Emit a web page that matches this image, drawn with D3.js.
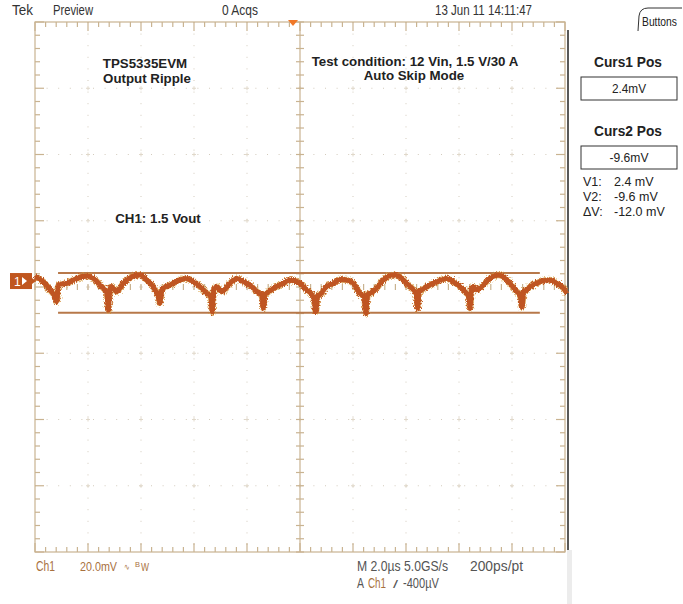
<!DOCTYPE html>
<html><head><meta charset="utf-8">
<script src="https://cdn.jsdelivr.net/npm/d3@7"></script>
<style>
html,body{margin:0;padding:0;background:#fff;}
svg{display:block;}
.nar{font-family:"Liberation Sans",Arial,sans-serif;}
.ann{font-family:"Liberation Sans",Arial,sans-serif;font-weight:bold;}
</style></head>
<body>
<svg id="c" width="683" height="604"></svg>
<script>
// ---- data (time in µs, voltage in mV) ----
const traceTime = [0,0.31,0.57,0.75,0.82,0.88,1.2,1.57,1.95,2.2,2.45,2.71,2.77,2.83,2.89,3.08,3.33,3.71,3.96,4.22,4.46,4.65,4.72,4.78,4.84,5.09,5.47,5.72,5.97,6.23,6.48,6.64,6.69,6.75,6.86,7.05,7.36,7.61,7.86,8.11,8.37,8.56,8.62,8.68,8.74,8.99,9.37,9.62,10.0,10.25,10.5,10.6,10.66,10.75,11.0,11.26,11.51,11.76,12.01,12.26,12.43,12.49,12.55,12.64,12.83,13.14,13.52,13.77,14.03,14.28,14.38,14.44,14.5,14.59,14.78,15.16,15.54,15.78,16.04,16.29,16.36,16.42,16.48,16.54,16.67,17.17,17.48,17.67,17.92,18.18,18.31,18.37,18.45,18.55,18.68,19.06,19.43,19.69,19.94,20.06];
const traceMv = [1.3,-0.2,-2.7,-4.7,-6.2,-1.2,-0.7,0.8,1.5,0.8,-1.2,-3.7,-8.8,-2.5,-1.7,-3.2,-0.7,1.5,1.8,0.3,-1.7,-4.7,-6.7,-2.8,-2.2,-1.2,0.3,0.8,-0.2,-1.7,-3.7,-4.8,-9.3,-2.5,-1.7,-3.2,-0.7,0.8,-0.2,-1.2,-3.2,-4.5,-8.2,-4.0,-3.7,-2.2,-0.7,0.3,-0.7,-2.7,-4.7,-9.3,-4.5,-4.2,-1.7,-0.7,0.5,0.3,-0.7,-3.7,-5.0,-9.8,-4.0,-3.7,-2.7,0.3,1.8,1.3,-0.7,-2.7,-3.8,-8.2,-3.0,-2.7,-1.7,-0.2,0.8,-0.2,-1.7,-3.7,-4.5,-8.2,-2.0,-1.7,-2.7,0.8,1.8,1.3,-0.7,-3.2,-4.3,-7.8,-3.0,-2.7,-1.7,-0.2,0.3,-0.7,-2.2,-3.7];
const cursorMv = [2.4, -9.6];
const cursorSpan = [0.87, 19.05];          // µs extent of cursor bars
const xDivs = 10, yDivs = 8, minorPerDiv = 5;
const timeDomain = [0, 20];                  // 2.0 µs/div
const voltDomain = [-81.8, 78.2];            // 20.0 mV/div with channel offset
const headerLabels = ["Tek", "Preview", "0 Acqs", "13 Jun 11 14:11:47"];
const readouts = [["V1:", "2.4 mV"], ["V2:", "-9.6 mV"], ["\u0394V:", "-12.0 mV"]];

// ---- layout ----
const L = 35, R = 565, T = 22, B = 552;
const svg = d3.select("#c");
const defs = svg.append("defs");
const flt = defs.append("filter").attr("id", "fuzz").attr("filterUnits", "userSpaceOnUse")
  .attr("x", 0).attr("y", 240).attr("width", 600).attr("height", 100);
flt.append("feTurbulence").attr("type", "fractalNoise").attr("baseFrequency", "0.9 0.6")
  .attr("numOctaves", 2).attr("seed", 7).attr("result", "n");
flt.append("feDisplacementMap").attr("in", "SourceGraphic").attr("in2", "n").attr("scale", 6)
  .attr("xChannelSelector", "R").attr("yChannelSelector", "G");

const x = d3.scaleLinear().domain(timeDomain).range([L, R]);
const y = d3.scaleLinear().domain(voltDomain).range([B, T]);
const xd = d3.scaleLinear().domain([0, xDivs]).range([L, R]);
const yd = d3.scaleLinear().domain([0, yDivs]).range([T, B]);
const frameCol = "#c9b391", gridCol = "#d3cbbd";

// dotted interior grid
const g = svg.append("g");
d3.range(1, xDivs).forEach(i => {
  if (i === xDivs/2) return;
  g.append("line").attr("x1", xd(i)).attr("x2", xd(i)).attr("y1", T).attr("y2", B)
   .attr("stroke", gridCol).attr("stroke-width", 1).attr("stroke-dasharray", "1,10.6");
});
d3.range(1, yDivs).forEach(i => {
  if (i === yDivs/2) return;
  g.append("line").attr("x1", L).attr("x2", R).attr("y1", yd(i)).attr("y2", yd(i))
   .attr("stroke", gridCol).attr("stroke-width", 1).attr("stroke-dasharray", "1,10.6");
});
d3.range(1, xDivs).forEach(i => d3.range(1, yDivs).forEach(j => {
  g.append("line").attr("x1", xd(i)-2).attr("x2", xd(i)+2).attr("y1", yd(j)).attr("y2", yd(j)).attr("stroke", "#e0d8ca");
  g.append("line").attr("x1", xd(i)).attr("x2", xd(i)).attr("y1", yd(j)-2).attr("y2", yd(j)+2).attr("stroke", "#e0d8ca");
}));

// frame and centre axes with ticks
const f = svg.append("g").attr("stroke", frameCol).attr("stroke-width", 1.2);
f.append("rect").attr("x", L).attr("y", T).attr("width", R-L).attr("height", B-T).attr("fill", "none");
f.append("line").attr("x1", xd(5)).attr("x2", xd(5)).attr("y1", T).attr("y2", B);
d3.range(0, xDivs*minorPerDiv+1).forEach(k => {
  const xx = xd(k/minorPerDiv), major = k % minorPerDiv === 0;
  const len = major ? 9 : 5;
  f.append("line").attr("x1", xx).attr("x2", xx).attr("y1", T).attr("y2", T+len);
  f.append("line").attr("x1", xx).attr("x2", xx).attr("y1", B).attr("y2", B-len);
  f.append("line").attr("x1", xx).attr("x2", xx).attr("y1", yd(4)-3).attr("y2", yd(4)+3);
});
d3.range(0, yDivs*minorPerDiv+1).forEach(k => {
  const yy = yd(k/minorPerDiv), major = k % minorPerDiv === 0;
  const len = major ? 9 : 5;
  f.append("line").attr("x1", L).attr("x2", L+len).attr("y1", yy).attr("y2", yy);
  f.append("line").attr("x1", R).attr("x2", R-len).attr("y1", yy).attr("y2", yy);
  f.append("line").attr("x1", xd(5)-4).attr("x2", xd(5)+4).attr("y1", yy).attr("y2", yy);
});
// dark right edge
svg.append("line").attr("x1", 568).attr("x2", 568).attr("y1", 30).attr("y2", 550).attr("stroke", "#222").attr("stroke-width", 1.5);
svg.append("rect").attr("x", 567).attr("y", 550).attr("width", 5).attr("height", 54).attr("fill", "#ececec");

// cursors
cursorMv.forEach(v => {
  svg.append("line").attr("x1", x(cursorSpan[0])).attr("x2", x(cursorSpan[1]))
    .attr("y1", y(v)).attr("y2", y(v)).attr("stroke", "#b7784a").attr("stroke-width", 2);
});

// trace
const pts = traceTime.map((t, i) => [t, traceMv[i]]);
const line = d3.line().x(d => x(d[0])).y(d => y(d[1])).curve(d3.curveMonotoneX);
svg.append("path").datum(pts).attr("d", line).attr("fill", "none")
  .attr("stroke", "#d9a040").attr("stroke-width", 6.5).attr("stroke-opacity", 0.7).attr("stroke-linejoin", "round")
  .attr("filter", "url(#fuzz)");
svg.append("path").datum(pts).attr("d", line).attr("fill", "none")
  .attr("stroke", "#bf5524").attr("stroke-width", 4.5).attr("stroke-linejoin", "round");
svg.append("path").datum(pts).attr("d", line).attr("fill", "none")
  .attr("stroke", "#bf5524").attr("stroke-width", 5).attr("stroke-linejoin", "round")
  .attr("filter", "url(#fuzz)");

// channel marker
svg.append("rect").attr("x", 10).attr("y", y(0)-8).attr("width", 22).attr("height", 16).attr("fill", "#c0561f");
svg.append("text").attr("class", "nar").attr("x", 14).attr("y", y(0)+5).attr("fill", "#fff").attr("font-size", 12).text("1");
svg.append("path").attr("d", `M22,${y(0)-4} L27,${y(0)} L22,${y(0)+4} Z`).attr("fill", "#fff");
svg.append("path").attr("d", `M32,${y(0)-3} L36,${y(0)} L32,${y(0)+3} Z`).attr("fill", "#c0561f");

// trigger marker
svg.append("path").attr("d", "M288,20 L298,20 L293,26 Z").attr("fill", "#f07828");

// narrow text helper
const nt = (s, tx, ty, w, col, fs, extra) => {
  const t = svg.append("text").attr("class", "nar").attr("x", tx).attr("y", ty)
    .attr("font-size", fs || 14).attr("fill", col || "#333").text(s);
  if (w) t.attr("textLength", w).attr("lengthAdjust", "spacingAndGlyphs");
  if (extra) extra(t);
  return t;
};

// header
const hx = [12, 53, 222, 435], hw = [21, 40, 36, 97];
headerLabels.forEach((s, i) => nt(s, hx[i], 15, hw[i], "#333", 14));
svg.append("path").attr("d", "M682,8 L648,8 Q640,8 639,16 L638,31").attr("fill", "none").attr("stroke", "#333").attr("stroke-width", 1);
nt("Buttons", 642, 26, 35, "#222", 12.5);

// right panel
[["Curs1 Pos", 67, 77, "2.4mV", 34], ["Curs2 Pos", 136, 146, "-9.6mV", 39]].forEach(([lab, ty, by, val, vw]) => {
  nt(lab, 594, ty, 68, "#222", 15.5, t => t.attr("font-weight", "bold"));
  svg.append("rect").attr("x", 581).attr("y", by).attr("width", 96).attr("height", 23)
    .attr("fill", "#fff").attr("stroke", "#333").attr("stroke-width", 1);
  nt(val, 629 - vw/2, by+16, vw, "#222", 13.5);
});
readouts.forEach(([a, b], i) => {
  const yy = 186 + i*15;
  svg.append("text").attr("x", 583).attr("y", yy).attr("font-family", "Liberation Sans, Arial, sans-serif")
    .attr("font-size", 12.5).attr("fill", "#222").text(a);
  svg.append("text").attr("x", 614).attr("y", yy).attr("font-family", "Liberation Sans, Arial, sans-serif")
    .attr("font-size", 12.5).attr("fill", "#222").text(b);
});

// annotations
const ann = [["TPS5335EVM", 145, 68], ["Output Ripple", 147, 83], ["Test condition: 12 Vin, 1.5 V/30 A", 415, 66], ["Auto Skip Mode", 414, 80], ["CH1: 1.5 Vout", 158, 223]];
ann.forEach(([s, ax, ay]) => svg.append("text").attr("class", "ann").attr("x", ax).attr("y", ay)
  .attr("text-anchor", "middle").attr("font-size", 13.3).attr("fill", "#222").text(s));

// bottom readouts
const brown = "#a8713e", grey = "#555";
nt("Ch1", 36, 571, 19, brown);
nt("20.0mV", 80, 571, 37, brown, 12.5);
nt("\u223F", 124, 570, 6, brown, 9);
nt("B", 135, 567, 5, brown, 8);
nt("W", 141, 571, 8, brown, 10);
nt("M 2.0\u00b5s 5.0GS/s", 357, 571, 91, grey);
nt("200ps/pt", 470, 571, 53, grey);
nt("A", 357, 588, 7, grey);
nt("Ch1", 368, 588, 18, brown);
nt("/", 393, 588, 5, grey, 11);
nt("-400\u00b5V", 403, 588, 36, grey);
</script>
</body></html>
